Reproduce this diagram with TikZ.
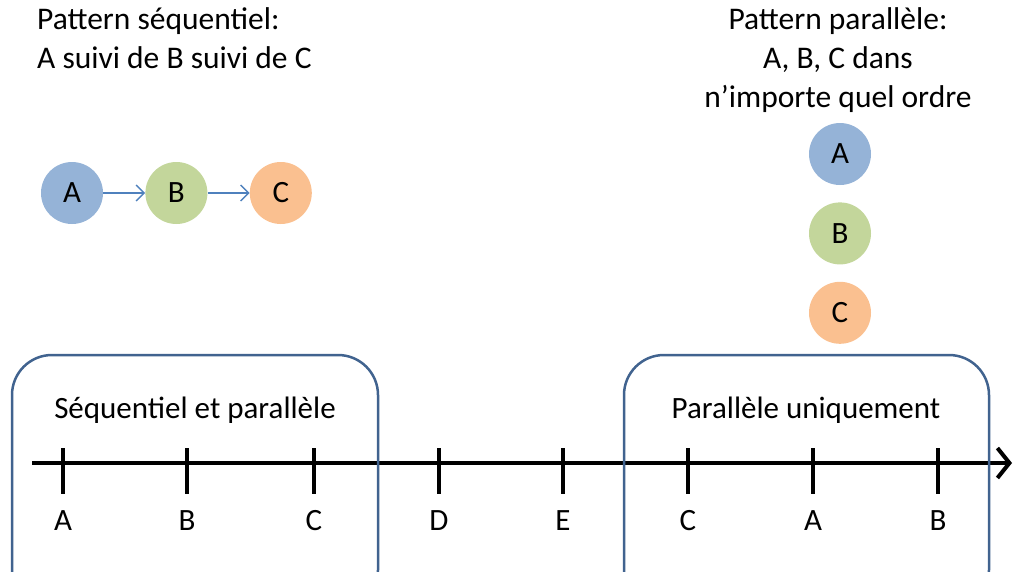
\documentclass[tikz,border=0pt]{standalone}
\usepackage{fontspec}
\setmainfont{Carlito}
\usetikzlibrary{positioning,arrows.meta}

\definecolor{evtblue}{HTML}{95B3D7}
\definecolor{evtgreen}{HTML}{C3D69B}
\definecolor{evtorange}{HTML}{FAC090}
\definecolor{framecol}{HTML}{41638F}
\definecolor{linkcol}{HTML}{4F81BD}

\begin{document}
\begin{tikzpicture}[x=1pt, y=-1pt, node distance=42pt, font=\fontsize{31}{39}\selectfont]
    \tikzstyle{evt} = [circle, minimum size=62pt, inner sep=0pt]
    \tikzstyle{title} = [font=\fontsize{31.5}{39}\selectfont, inner sep=0pt]
    \tikzstyle{link} = [draw=linkcol, line width=1.4pt, -{Straight Barb[length=8pt, width=16pt]}]
    \tikzstyle{frame} = [draw=framecol, line width=2.5pt, rounded corners=40pt]
    \tikzstyle{axis} = [draw, line width=4pt, -{Straight Barb[length=12pt, width=30pt, line width=4pt]}]
    \tikzstyle{tick} = [draw, line width=4pt]

    \useasboundingbox (0,0) rectangle (1013,571);
    \clip (0,0) rectangle (1013,571);

    % sequential pattern
    \node [title, align=left, anchor=north west] (seqtitle) at (37,7) {Pattern séquentiel:\\A suivi de B suivi de C};
    \node [evt, fill=evtblue] (sa) at (72,193) {A};
    \node [evt, fill=evtgreen, right=of sa] (sb) {B};
    \node [evt, fill=evtorange, right=of sb] (sc) {C};
    \path [link] (sa) -- (sb);
    \path [link] (sb) -- (sc);

    % parallel pattern
    \node [title, align=center, anchor=north] (partitle) at (838,7) {Pattern parallèle:\\A, B, C dans\\n’importe quel ordre};
    \node [evt, fill=evtblue] (pa) at (840,154) {A};
    \node [evt, fill=evtgreen, below=17pt of pa] (pb) {B};
    \node [evt, fill=evtorange, below=17pt of pb] (pc) {C};

    % time line
    \coordinate (tstart) at (32,463);
    \coordinate (tend) at (1012,463);
    \path [axis] (tstart) -- (tend);
    \foreach \x/\lab [count=\i] in {63/A,187/B,314/C,439/D,563/E,688/C,813/A,938/B} {
        \path [tick] (\x,448) -- (\x,494);
        \node (lab\i) at (\x,521) {\lab};
    }

    % windows
    \path [frame] (12,355) rectangle (378,610);
    \node (seqwin) at (195,410) {Séquentiel et parallèle};
    \path [frame] (624,355) rectangle (989,610);
    \node (parwin) at (806,410) {Parallèle uniquement};
\end{tikzpicture}
\end{document}
